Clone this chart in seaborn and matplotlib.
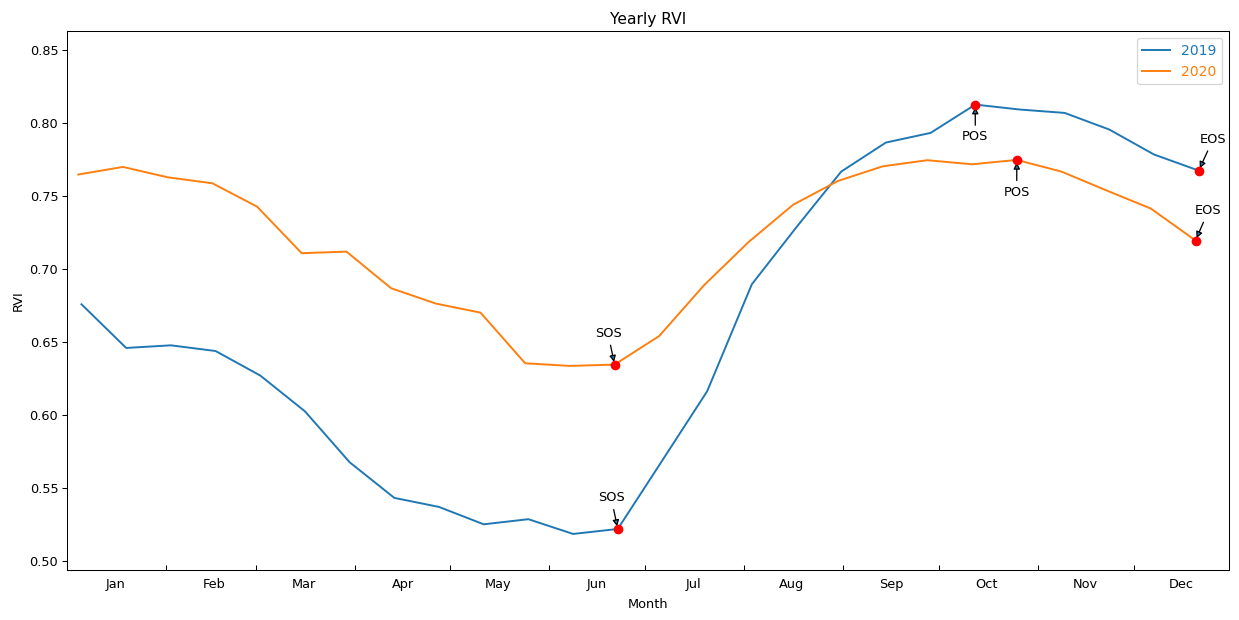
import numpy as np
import pandas as pd
import matplotlib
matplotlib.use("Agg")
import matplotlib.pyplot as plt
import matplotlib.dates as mdates
from matplotlib.ticker import NullFormatter
import seaborn as sns

# ---- data ----
years = ["2019", "2020"]
start_2019 = "2019-01-05 10:00"
start_2020 = "2019-01-04 10:00"   # 2020 season drawn on the same calendar axis
n_obs = 26
rvi_2019 = [0.6758, 0.6459, 0.6477, 0.6438, 0.6270, 0.6025, 0.5676, 0.5432, 0.5370,
            0.5251, 0.5286, 0.5185, 0.5219, 0.5690, 0.6162, 0.6895, 0.7287, 0.7667,
            0.7866, 0.7932, 0.8126, 0.8092, 0.8069, 0.7955, 0.7784, 0.7674]
rvi_2020 = [0.7647, 0.7699, 0.7628, 0.7587, 0.7427, 0.7108, 0.7119, 0.6868, 0.6763,
            0.6701, 0.6354, 0.6336, 0.6345, 0.6541, 0.6888, 0.7185, 0.7441, 0.7603,
            0.7703, 0.7745, 0.7717, 0.7747, 0.7667, 0.7539, 0.7414, 0.7195]
# phenology point indices: SOS, POS, EOS
pheno_labels = ["SOS", "POS", "EOS"]
pheno_idx_2019 = [12, 20, 25]
pheno_idx_2020 = [12, 21, 25]
colors = ["#1f77b4", "#ff7f0e"]

dates_2019 = pd.date_range(start_2019, periods=n_obs, freq="14D")
dates_2020 = pd.date_range(start_2020, periods=n_obs, freq="14D")

df = pd.concat([
    pd.DataFrame({"date": dates_2019, "RVI": rvi_2019, "year": "2019"}),
    pd.DataFrame({"date": dates_2020, "RVI": rvi_2020, "year": "2020"}),
], ignore_index=True)

DPI = 93
fig = plt.figure(figsize=(1239 / DPI, 620 / DPI), dpi=DPI)
ax = fig.add_axes([67.4 / 1239, 1 - 570 / 620, (1229.3 - 67.4) / 1239, (570 - 31.3) / 620])

sns.lineplot(data=df, x="date", y="RVI", hue="year", palette=colors, ax=ax,
             linewidth=1.5, legend=True)

# phenology markers + annotations
offsets = {
    ("2019", "SOS"): (-5, 24), ("2019", "POS"): (0, -25), ("2019", "EOS"): (11, 24),
    ("2020", "SOS"): (-5, 24), ("2020", "POS"): (0, -25), ("2020", "EOS"): (10, 23),
}
for yr, dts, vals, idxs in [("2019", dates_2019, rvi_2019, pheno_idx_2019),
                            ("2020", dates_2020, rvi_2020, pheno_idx_2020)]:
    px = [dts[i] for i in idxs]
    py = [vals[i] for i in idxs]
    ax.plot(px, py, "o", color="red", markersize=6.5, zorder=5)
    for lab, x, y in zip(pheno_labels, px, py):
        ax.annotate(lab, xy=(x, y), xytext=offsets[(yr, lab)], textcoords="offset points",
                    ha="center", va="center", fontsize=10,
                    arrowprops=dict(arrowstyle="-|>", facecolor="#1f77b4", edgecolor="black"))

ax.set_xlim(pd.Timestamp("2019-01-01"), pd.Timestamp("2019-12-31"))
ax.set_ylim(0.4938, 0.8628)
ax.set_yticks([0.50, 0.55, 0.60, 0.65, 0.70, 0.75, 0.80, 0.85])
ax.yaxis.set_major_formatter(matplotlib.ticker.FormatStrFormatter("%.2f"))

ax.xaxis.set_major_locator(mdates.MonthLocator())
ax.xaxis.set_major_formatter(NullFormatter())
ax.xaxis.set_minor_locator(mdates.MonthLocator(bymonthday=16))
ax.xaxis.set_minor_formatter(mdates.DateFormatter("%b"))
ax.tick_params(axis="x", which="major", direction="in", length=4)
ax.tick_params(axis="x", which="minor", length=0, pad=6)

ax.set_title("Yearly RVI", fontsize=12)
ax.set_xlabel("Month", labelpad=6)
ax.set_ylabel("RVI")

leg = ax.legend(loc="upper right", labelcolor="linecolor", fontsize=10.8)

fig.savefig("out.png", dpi=DPI)
